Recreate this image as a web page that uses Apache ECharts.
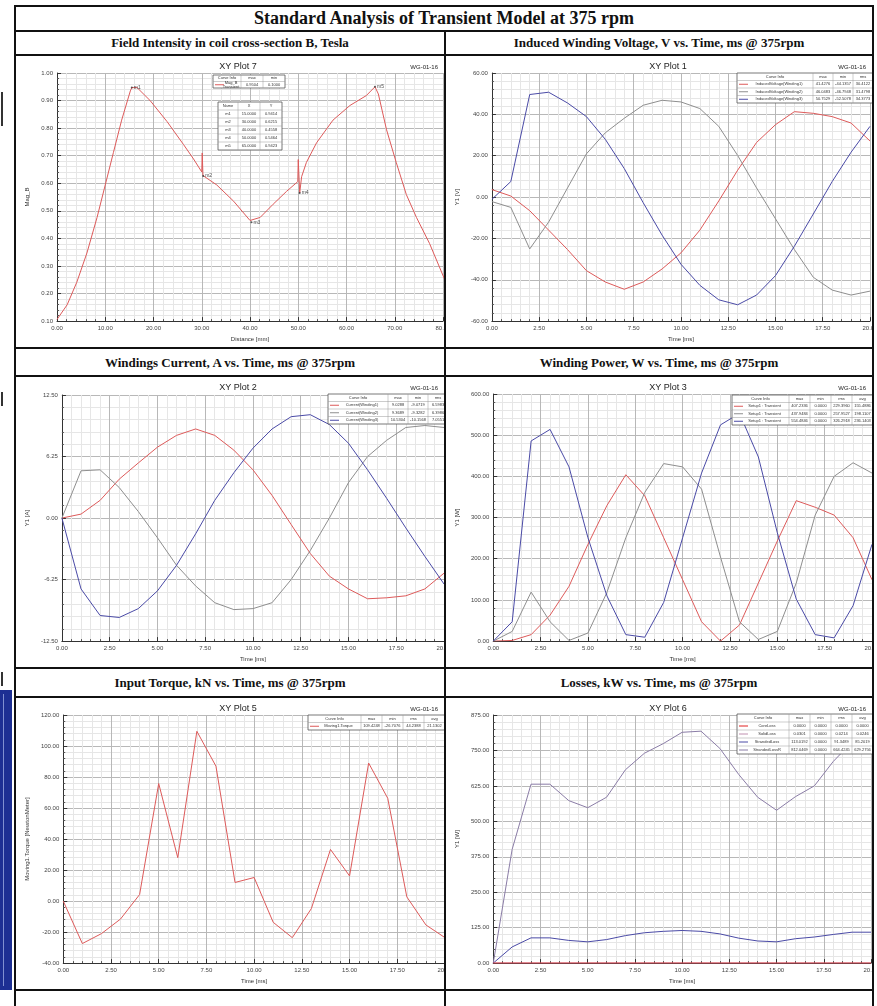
<!DOCTYPE html>
<html><head><meta charset="utf-8">
<script src="https://cdn.jsdelivr.net/npm/echarts/dist/echarts.min.js"></script>
<style>
html,body{margin:0;padding:0;background:#fff;}
#page{position:relative;width:877px;height:1006px;overflow:hidden;background:#fff;}
.hl{position:absolute;height:2px;background:#111;}
.vl{position:absolute;width:2px;background:#111;}
.hdr{position:absolute;text-align:center;font-family:"Liberation Serif","DejaVu Serif",serif;font-weight:bold;color:#111;white-space:nowrap;}
.panel{position:absolute;overflow:hidden;}
.inner{position:absolute;left:0;top:0;}
</style>
</head><body>
<div id="page">
  <div class="hl" style="left:14px;top:5px;width:860px"></div>
  <div class="hl" style="left:14px;top:30px;width:860px"></div>
  <div class="hl" style="left:14px;top:54px;width:860px"></div>
  <div class="hl" style="left:14px;top:347px;width:860px"></div>
  <div class="hl" style="left:14px;top:375px;width:860px"></div>
  <div class="hl" style="left:14px;top:667px;width:860px"></div>
  <div class="hl" style="left:14px;top:696px;width:860px"></div>
  <div class="hl" style="left:14px;top:989px;width:860px"></div>
  <div class="vl" style="left:14px;top:5px;height:1001px"></div>
  <div class="vl" style="left:872px;top:5px;height:1001px"></div>
  <div class="vl" style="left:444px;top:30px;height:976px"></div>
  <div style="position:absolute;left:0;top:690px;width:12px;height:300px;background:#1d2f93;"></div>
  <div style="position:absolute;left:3px;top:694px;width:1px;height:292px;background:#8090d0;"></div>
  <div style="position:absolute;left:1px;top:92px;width:2px;height:34px;background:#333;"></div>
  <div style="position:absolute;left:1px;top:392px;width:2px;height:14px;background:#333;"></div>
  <div style="position:absolute;left:1px;top:672px;width:2px;height:14px;background:#333;"></div>

  <div class="hdr" style="left:16px;width:856px;top:6px;line-height:24px;font-size:18px;">Standard Analysis of Transient Model at 375 rpm</div>
  <div class="hdr" style="left:16px;width:428px;top:32px;line-height:22px;font-size:13px;">Field Intensity in coil cross-section B, Tesla</div>
  <div class="hdr" style="left:446px;width:426px;top:32px;line-height:22px;font-size:13px;">Induced Winding Voltage, V vs. Time, ms @ 375rpm</div>
  <div class="hdr" style="left:16px;width:428px;top:350px;line-height:25px;font-size:13px;">Windings Current, A vs. Time, ms @ 375rpm</div>
  <div class="hdr" style="left:446px;width:426px;top:350px;line-height:25px;font-size:13px;">Winding Power, W vs. Time, ms @ 375rpm</div>
  <div class="hdr" style="left:16px;width:428px;top:669px;line-height:27px;font-size:13px;">Input Torque, kN vs. Time, ms @ 375rpm</div>
  <div class="hdr" style="left:446px;width:426px;top:669px;line-height:27px;font-size:13px;">Losses, kW vs. Time, ms @ 375rpm</div>

  <div class="panel" id="pTL" style="left:16px;top:56px;width:428px;height:291px"></div>
  <div class="panel" id="pTR" style="left:446px;top:56px;width:426px;height:291px"></div>
  <div class="panel" id="pML" style="left:16px;top:377px;width:428px;height:290px"></div>
  <div class="panel" id="pMR" style="left:446px;top:377px;width:426px;height:290px"></div>
  <div class="panel" id="pBL" style="left:16px;top:698px;width:428px;height:291px"></div>
  <div class="panel" id="pBR" style="left:446px;top:698px;width:426px;height:291px"></div>
</div>
<script>
// ---------------- DATA ----------------
// Plot 7: Mag_B vs distance
const distanceMm = [0,2.1,4.1,6.2,8.3,10,11.7,13.4,15.2,15.5,16.6,19.3,22.8,26.2,28.3,30.0,30.1,30.25,30.4,33.1,36.6,40,40.3,42.1,44.8,47.6,49.9,50.0,50.3,50.7,51.7,53.8,57.2,60.7,64.1,65.9,66.6,68.3,70.3,72.4,74.5,77.2,80.3];
const magB       = [0.106,0.159,0.241,0.347,0.476,0.594,0.712,0.829,0.935,0.947,0.947,0.9,0.824,0.741,0.688,0.641,0.71,0.628,0.626,0.594,0.535,0.465,0.459,0.476,0.524,0.571,0.606,0.686,0.565,0.624,0.676,0.747,0.829,0.882,0.918,0.950,0.924,0.794,0.676,0.559,0.476,0.382,0.253];
const markerNames = ['m1','m2','m3','m4','m5'];
const markerX     = [15.5,30.3,40.3,50.3,65.9];
const markerY     = [0.947,0.626,0.459,0.565,0.950];

// Time axis (ms) shared by transient plots
const timeMs = [0,1,2,3,4,5,6,7,8,9,10,11,12,13,14,15,16,17,18,19,20];

// Plot 1: Induced voltage [V]
const voltW1 = [3.6,0.5,-6.6,-16,-25.4,-35.6,-41.1,-44.6,-41.1,-34.8,-27,-16,-1.9,13,26.4,35,41.3,40.5,38.9,35.8,27.1];
const voltW2 = [-2.2,-5,-25.1,-12.1,4.4,20.9,31.1,38.1,44.4,46.8,46,42.8,34.2,20.1,4.4,-10.5,-25.4,-38.8,-45,-47.4,-45.5];
const voltW3 = [-1.1,7.5,49.6,50.7,45.5,38.9,27.9,13.8,-2.7,-18.4,-32.5,-42.7,-49.7,-52.1,-47.4,-38,-23.8,-8.2,7.5,21.7,34.2];

// Plot 2: Winding currents [A]
const curW1 = [0,0.4,1.8,3.95,5.6,7.2,8.4,9.05,8.4,6.9,4.9,2.3,-0.66,-3.6,-5.9,-7.2,-8.2,-8.1,-7.9,-7.2,-5.6];
const curW2 = [0,4.8,4.9,3.1,0.66,-2.0,-4.8,-6.9,-8.6,-9.3,-9.2,-8.6,-6.25,-3.3,0,3.6,6.25,7.9,9.2,9.4,9.2];
const curW3 = [0,-7.2,-9.9,-10.1,-9.2,-7.4,-4.8,-1.6,1.8,4.6,7.1,9.05,10.3,10.5,9.5,7.6,4.9,2.0,-1.0,-3.9,-6.7];

// Plot 3: Winding power [W]
const powW1 = [0,1.6,15.7,63,133,235,329,404,353,251,149,47,0,39,141,243,341,325,306,251,149];
const powW2 = [0,23.5,119,47,1.6,19.6,118,251,361,431,423,369,204,47,3.9,23.5,141,306,400,433,408];
const powW3 = [0,47,486,514,423,251,110,15.7,9.4,94,251,408,525,553,447,263,102,15.7,7.8,86,235];

// Plot 5: Moving1.Torque
const torque = [0,-27.4,-21,-11.6,4.2,75.8,28,109.5,87,12,15.2,-13.7,-23.6,-4.8,33.3,16.2,89,66.3,2.7,-15.4,-23.6];

// Plot 6: Losses
const lossCore      = [0,0,0,0,0,0,0,0,0,0,0,0,0,0,0,0,0,0,0,0,0];
const lossSolid     = [0,0.01,0.02,0.02,0.02,0.02,0.02,0.02,0.03,0.03,0.03,0.03,0.03,0.02,0.02,0.02,0.02,0.02,0.03,0.03,0.03];
const lossStranded  = [0,57,89,89,80,75,83,97,107,112,115,112,103,88,78,75,86,92,101,109,109];
const lossStrandedR = [0,401,631,631,573,548,585,682,740,774,814,818,757,665,585,539,587,625,711,780,840];

// Legend table texts
const legTL = [['Curve Info','max','min'],['Mag_B\nTransient','0.9504','0.1000']];
const legTLmarkers = [['Name','X','Y'],['m1','15.0000','0.9414'],['m2','30.0000','0.6215'],['m3','40.0000','0.4558'],['m4','50.0000','0.5464'],['m5','65.0000','0.9423']];
const legTR = [['Curve Info','max','min','rms'],['InducedVoltage(Winding1)','41.4276','-44.1357','30.4122'],['InducedVoltage(Winding2)','46.0483','-46.7948','31.4798'],['InducedVoltage(Winding3)','50.7529','-52.5078','34.3773']];
const legML = [['Curve Info','max','min','rms'],['Current(Winding1)','9.0288','-9.0719','6.5983'],['Current(Winding2)','9.3689','-9.3282','6.3986'],['Current(Winding3)','10.5304','-10.1568','7.0551']];
const legMR = [['Curve Info','max','min','rms','avg'],['Setup1 : Transient','407.2336','0.0000','229.3960','155.4886'],['Setup1 : Transient','437.9484','0.0000','257.9527','198.1107'],['Setup1 : Transient','554.4846','0.0000','326.2918','236.1403']];
const legBL = [['Curve Info','max','min','rms','avg'],['Moving1.Torque','109.4248','-26.7076','44.2388','21.1302']];
const legBR = [['Curve Info','max','min','rms','avg'],['CoreLoss','0.0000','0.0000','0.0000','0.0000'],['SolidLoss','0.0301','0.0000','0.0214','0.0246'],['StrandedLoss','113.0192','0.0000','91.3489','85.2019'],['StrandedLossR','812.0469','0.0000','664.4245','629.2756']];

// ---------------- STYLE ----------------
const C_RED = '#dd5a5a', C_GRAY = '#8e8e8e', C_BLUE = '#4a4aa6', C_PURP = '#8a7ca6';
const FONT = '"Liberation Sans", Arial, sans-serif';

function legendTable(x, y, colW, rowH, rows, colors) {
  const els = [];
  const W = colW.reduce((a,b)=>a+b,0), H = rowH*rows.length;
  els.push({type:'rect', z:100, shape:{x:x,y:y,width:W,height:H}, style:{fill:'#fff',stroke:'#555',lineWidth:0.8}});
  for (let r=1;r<rows.length;r++) els.push({type:'line', z:101, shape:{x1:x,y1:y+r*rowH,x2:x+W,y2:y+r*rowH}, style:{stroke:'#999',lineWidth:0.5}});
  let cx = x;
  for (let c=0;c<colW.length;c++) {
    if (c>0) els.push({type:'line', z:101, shape:{x1:cx,y1:y,x2:cx,y2:y+H}, style:{stroke:'#999',lineWidth:0.5}});
    for (let r=0;r<rows.length;r++) {
      const hasLine = c===0 && r>0 && colors && colors[r-1];
      els.push({type:'text', z:102, style:{text:rows[r][c], x:cx+colW[c]/2+(hasLine?4:0), y:y+r*rowH+rowH/2, fill:'#333', font:'4px '+FONT, align:'center', verticalAlign:'middle'}});
      if (hasLine) els.push({type:'line', z:102, shape:{x1:cx+2,y1:y+r*rowH+rowH/2,x2:cx+11,y2:y+r*rowH+rowH/2}, style:{stroke:colors[r-1],lineWidth:1}});
    }
    cx += colW[c];
  }
  return els;
}

function titleEls(plotName, width) {
  return [
    {type:'text', z:50, style:{text:plotName, x:222, y:11, fill:'#222', font:'9px '+FONT, align:'center', verticalAlign:'middle'}},
    {type:'text', z:50, style:{text:'WG-01-16', x:width-6, y:11, fill:'#222', font:'6px '+FONT, align:'right', verticalAlign:'middle'}}
  ];
}

function axisCommon(extra) {
  return Object.assign({
    type:'value',
    nameLocation:'middle',
    nameTextStyle:{fontSize:6, color:'#333', fontFamily:FONT},
    axisLine:{show:true, onZero:false, lineStyle:{color:'#333', width:1}},
    axisTick:{show:true, inside:true, length:4, lineStyle:{color:'#333'}},
    minorTick:{show:true, splitNumber:5, length:2, lineStyle:{color:'#555'}},
    splitLine:{show:true, lineStyle:{color:'#b8b8b8', width:1}},
    minorSplitLine:{show:true, lineStyle:{color:'#e6e6e6', width:1}},
    axisLabel:{fontSize:6, color:'#444', fontFamily:FONT, margin:4, showMaxLabel:true, showMinLabel:true, formatter:v=>v.toFixed(2)}
  }, extra);
}

function makeChart(id, o) {
  const panel = document.getElementById(id);
  const inner = document.createElement('div');
  inner.className = 'inner';
  inner.style.width = (panel.clientWidth + 40) + 'px';
  inner.style.height = panel.clientHeight + 'px';
  panel.appendChild(inner);
  const chart = echarts.init(inner, null, {renderer:'canvas'});
  chart.setOption({
    animation:false,
    backgroundColor:'#fff',
    grid:{left:o.grid[0], top:o.grid[1], width:o.grid[2], height:o.grid[3], containLabel:false},
    xAxis:axisCommon({min:o.x[0], max:o.x[1], interval:o.x[2], name:o.xname, nameGap:11}),
    yAxis:axisCommon({min:o.y[0], max:o.y[1], interval:o.y[2], name:o.yname, nameGap:o.yGap||27}),
    series:o.series,
    graphic:o.graphic
  });
}

function zipT(arr){ return timeMs.map((t,i)=>[t,arr[i]]); }
function line(name, data, color, z){ return {type:'line', name:name, data:data, showSymbol:false, symbol:'none', lineStyle:{color:color, width:1}, itemStyle:{color:color}, z:z||2, clip:true}; }

// Top-left: XY Plot 7
makeChart('pTL', {
  grid:[39,17,388,255], x:[0,80,10], y:[0.1,1.0,0.1], xname:'Distance [mm]', yname:'Mag_B', yGap:27,
  series:[
    line('Mag_B', distanceMm.map((d,i)=>[d,magB[i]]), C_RED),
    {type:'scatter', data:markerX.map((x,i)=>[x,markerY[i],markerNames[i]]), symbolSize:2, itemStyle:{color:'#333'},
     label:{show:true, formatter:p=>p.data[2], position:'right', distance:1, fontSize:5, color:'#222', fontFamily:FONT}}
  ],
  graphic: titleEls('XY Plot 7',428)
    .concat(legendTable(197,19,[28,22,22],6.5,legTL,[C_RED]))
    .concat(legendTable(202,46,[20,22,22],8,legTLmarkers,null))
});

// Top-right: XY Plot 1
makeChart('pTR', {
  grid:[39,17,385,255], x:[0,20,2.5], y:[-60,60,20], xname:'Time [ms]', yname:'Y1 [V]', yGap:27,
  series:[line('InducedVoltage(Winding1)',zipT(voltW1),C_RED), line('InducedVoltage(Winding2)',zipT(voltW2),C_GRAY), line('InducedVoltage(Winding3)',zipT(voltW3),C_BLUE)],
  graphic: titleEls('XY Plot 1',426).concat(legendTable(291,17,[76,20,20,20],7.5,legTR,[C_RED,C_GRAY,C_BLUE]))
});

// Mid-left: XY Plot 2
makeChart('pML', {
  grid:[44,18,384,253], x:[0,20,2.5], y:[-12.5,12.5,6.25], xname:'Time [ms]', yname:'Y1 [A]', yGap:29,
  series:[line('Current(Winding1)',zipT(curW1),C_RED), line('Current(Winding2)',zipT(curW2),C_GRAY), line('Current(Winding3)',zipT(curW3),C_BLUE)],
  graphic: titleEls('XY Plot 2',428).concat(legendTable(312,17,[60,20,20,20],7.5,legML,[C_RED,C_GRAY,C_BLUE]))
});

// Mid-right: XY Plot 3
makeChart('pMR', {
  grid:[41,17,385,254], x:[0,20,2.5], y:[0,600,100], xname:'Time [ms]', yname:'Y1 [W]', yGap:28,
  series:[line('Setup1 W1',zipT(powW1),C_RED), line('Setup1 W2',zipT(powW2),C_GRAY), line('Setup1 W3',zipT(powW3),C_BLUE)],
  graphic: titleEls('XY Plot 3',426).concat(legendTable(286,18,[57,21,21,21,21],7.5,legMR,[C_RED,C_GRAY,C_BLUE]))
});

// Bottom-left: XY Plot 5
makeChart('pBL', {
  grid:[46,17,383,253], x:[0,20,2.5], y:[-40,120,20], xname:'Time [ms]', yname:'Moving1.Torque [NewtonMeter]', yGap:30,
  series:[line('Moving1.Torque',zipT(torque),C_RED)],
  graphic: titleEls('XY Plot 5',428).concat(legendTable(292,17,[53,21,21,21,21],7.5,legBL,[C_RED]))
});

// Bottom-right: XY Plot 6
makeChart('pBR', {
  grid:[42,17,383,255], x:[0,20,2.5], y:[0,875,125], xname:'Time [ms]', yname:'Y1 [W]', yGap:29,
  series:[line('StrandedLossR',zipT(lossStrandedR),C_PURP,2), line('StrandedLoss',zipT(lossStranded),C_BLUE,2), line('SolidLoss',zipT(lossSolid),'#c090b0',3), line('CoreLoss',zipT(lossCore),'#e02020',4)],
  graphic: titleEls('XY Plot 6',426).concat(legendTable(291,16,[52,21,21,21,21],8,legBR,['#e02020','#c090b0',C_BLUE,C_PURP]))
});
</script>
</body></html>
